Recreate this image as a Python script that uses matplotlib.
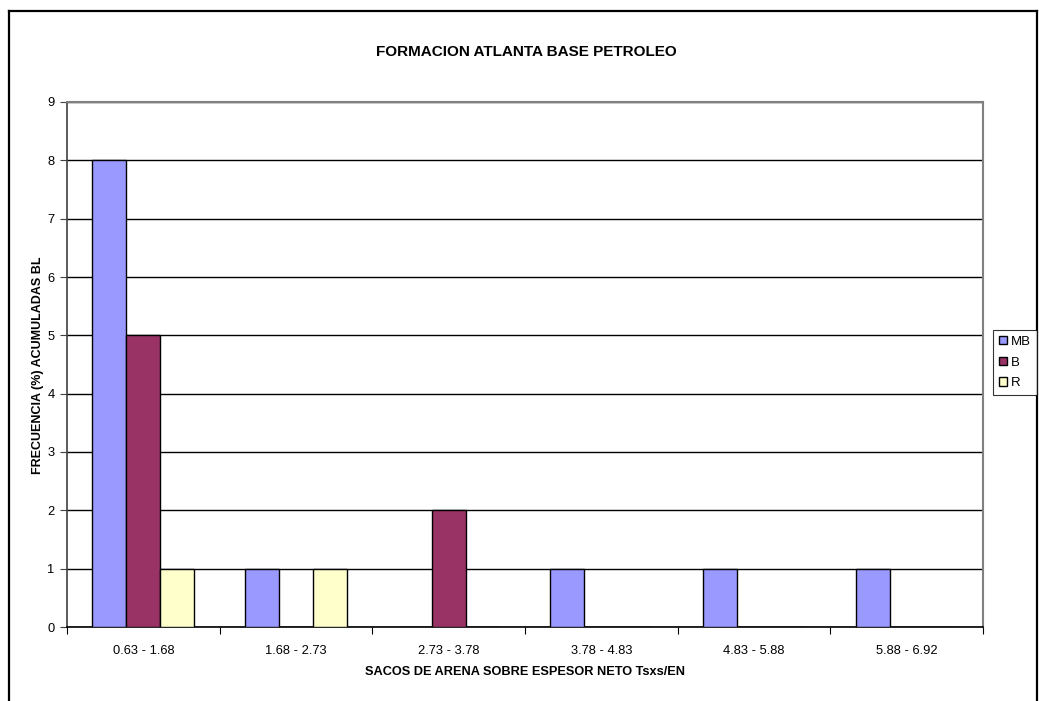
import numpy as np
import matplotlib
matplotlib.use("Agg")
import matplotlib.pyplot as plt
from matplotlib.lines import Line2D

plt.rcParams["font.family"] = ["Liberation Sans", "DejaVu Sans"]

# --- data ---
categories = ["0.63 - 1.68", "1.68 - 2.73", "2.73 - 3.78",
              "3.78 - 4.83", "4.83 - 5.88", "5.88 - 6.92"]
series_names = ["MB", "B", "R"]
mb_vals = [8, 1, 0, 1, 1, 1]
b_vals = [5, 0, 2, 0, 0, 0]
r_vals = [1, 1, 0, 0, 0, 0]
colors = ["#9999FF", "#993366", "#FFFFCC"]
y_ticks = list(range(0, 10))

W, H = 1039, 701
fig = plt.figure(figsize=(W / 100, H / 100), dpi=100)

# outer chart border (bottom is off-image)
fig.add_artist(Line2D([9 / W, 9 / W], [0, 1 - 11 / H], color="black", lw=1.6, transform=fig.transFigure))
fig.add_artist(Line2D([9 / W, 1037 / W], [1 - 11 / H, 1 - 11 / H], color="black", lw=1.6, transform=fig.transFigure))
fig.add_artist(Line2D([1037 / W, 1037 / W], [0, 1 - 11 / H], color="black", lw=1.6, transform=fig.transFigure))

left, right, top, bottom = 67, 983, 102, 627
ax = fig.add_axes([left / W, 1 - bottom / H, (right - left) / W, (bottom - top) / H])

x = np.arange(len(categories))
w = 1 / 4.5
for i, (vals, name, c) in enumerate(zip([mb_vals, b_vals, r_vals], series_names, colors)):
    ax.bar(x + (i - 1) * w, vals, width=w, color=c, edgecolor="black",
           linewidth=1, label=name, zorder=3)

ax.set_xlim(-0.5, len(categories) - 0.5)
ax.set_ylim(0, 9)
ax.set_yticks(y_ticks)
ax.yaxis.grid(True, color="black", linewidth=1, zorder=0)
ax.set_axisbelow(True)

ax.set_xticks(np.arange(-0.5, len(categories)), minor=False)
ax.set_xticklabels([])
ax.set_xticks(x, minor=True)
ax.set_xticklabels(categories, minor=True)
ax.tick_params(axis="x", which="major", length=5, direction="out", color="black")
ax.tick_params(axis="x", which="minor", length=0, pad=13, labelsize=9.3)
ax.tick_params(axis="y", length=5, direction="out", color="#404040", labelsize=9.3, pad=4)

for s in ["top", "right"]:
    ax.spines[s].set_color("#808080")
    ax.spines[s].set_linewidth(1.5)
ax.spines["left"].set_color("#404040")
ax.spines["left"].set_linewidth(1.2)
ax.spines["bottom"].set_color("black")
ax.spines["bottom"].set_linewidth(1.2)

fig.text(526 / W, 1 - 52 / H, "FORMACION ATLANTA BASE PETROLEO",
         ha="center", va="center", fontsize=11, fontweight="bold")
fig.text(525 / W, 1 - 672 / H, "SACOS DE ARENA SOBRE ESPESOR NETO Tsxs/EN",
         ha="center", va="center", fontsize=9.2, fontweight="bold")
fig.text(38 / W, 1 - 365 / H, "FRECUENCIA (%) ACUMULADAS BL", rotation=90,
         ha="center", va="center", fontsize=9, fontweight="bold")

leg = fig.legend(loc="upper left", bbox_to_anchor=(993 / W, 1 - 330 / H),
                 frameon=True, fancybox=False, fontsize=9.5,
                 handlelength=0.6, handleheight=0.6, handletextpad=0.3,
                 borderpad=0.45, labelspacing=0.65, borderaxespad=0)
leg.get_frame().set_edgecolor("black")
leg.get_frame().set_linewidth(0.8)

fig.savefig("out.png", dpi=100)
